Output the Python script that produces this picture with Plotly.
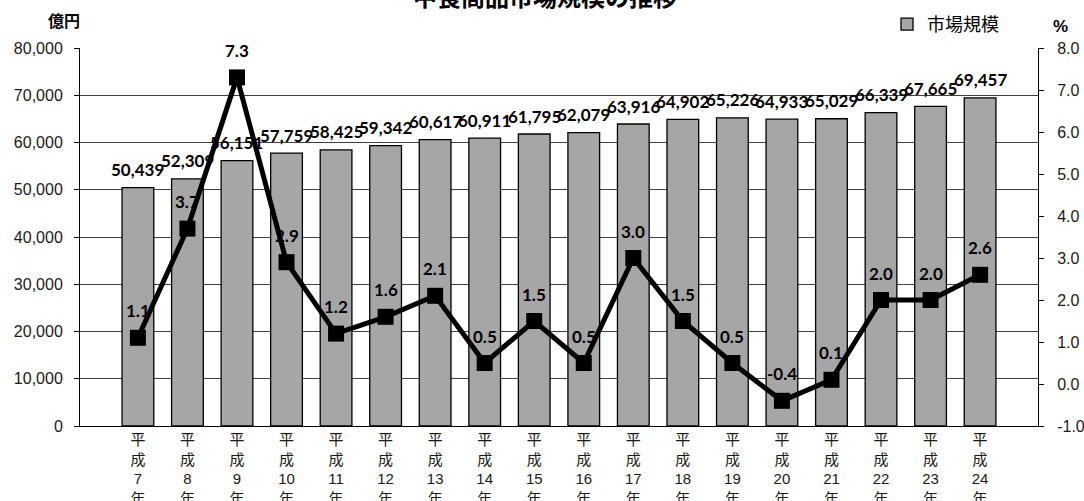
import plotly.graph_objects as go

# 年度ラベル（平成7年〜平成24年）
years = ["7", "8", "9", "10", "11", "12", "13", "14", "15",
         "16", "17", "18", "19", "20", "21", "22", "23", "24"]
categories = ["平<br>成<br>" + y + "<br>年" for y in years]

# 市場規模（億円）
market_size = [50439, 52309, 56151, 57759, 58425, 59342, 60617, 60911, 61795,
               62079, 63916, 64902, 65226, 64933, 65029, 66339, 67665, 69457]

# 前年比伸び率（%）
growth_rate = [1.1, 3.7, 7.3, 2.9, 1.2, 1.6, 2.1, 0.5, 1.5,
               0.5, 3.0, 1.5, 0.5, -0.4, 0.1, 2.0, 2.0, 2.6]

LEFT_TICKS = [0, 10000, 20000, 30000, 40000, 50000, 60000, 70000, 80000]
RIGHT_TICKS = [-1.0, 0.0, 1.0, 2.0, 3.0, 4.0, 5.0, 6.0, 7.0, 8.0]

W, H = 1084, 501
ML, MR, MT, MB = 80, 46, 48, 75
PW, PH = W - ML - MR, H - MT - MB

def px_x(px):
    return (px - ML) / PW

def px_y(py):
    return 1 + (MT - py) / PH

label_font = dict(family="Lato, 'Liberation Sans', sans-serif", size=17, color="#000000")
tick_font = dict(family="'Liberation Sans', Arial, sans-serif", size=16, color="#1a1a1a")
jp_font = "'Noto Sans CJK JP', 'Liberation Sans', sans-serif"

fig = go.Figure()

fig.add_trace(go.Bar(
    x=categories, y=market_size, name="市場規模",
    marker=dict(color="#a6a6a6", line=dict(color="#000000", width=1.3)),
    hoverinfo="x+y",
))

fig.add_trace(go.Scatter(
    x=categories, y=growth_rate, yaxis="y2", mode="lines+markers",
    line=dict(color="#000000", width=5),
    marker=dict(symbol="square", size=16, color="#000000"),
    showlegend=False,
))

annotations = []
# 棒グラフの値ラベル
for c, v in zip(categories, market_size):
    annotations.append(dict(
        x=c, y=v, xref="x", yref="y", text=f"<b>{v:,}</b>",
        showarrow=False, yshift=18, font=label_font,
    ))
# 伸び率の値ラベル
for c, v in zip(categories, growth_rate):
    annotations.append(dict(
        x=c, y=v, xref="x", yref="y2", text=f"<b>{v:.1f}</b>",
        showarrow=False, yshift=27, font=label_font,
    ))

# タイトルと単位
annotations.append(dict(
    x=px_x(545), y=px_y(-4), xref="paper", yref="paper",
    text="<b>中食商品市場規模の推移</b>", showarrow=False,
    font=dict(family=jp_font, size=24, color="#000000"),
    xanchor="center", yanchor="middle",
))
annotations.append(dict(
    x=px_x(64), y=px_y(20), xref="paper", yref="paper",
    text="<b>億円</b>", showarrow=False,
    font=dict(family=jp_font, size=16, color="#000000"),
    xanchor="center", yanchor="middle",
))
annotations.append(dict(
    x=px_x(1060), y=px_y(27), xref="paper", yref="paper",
    text="<b>%</b>", showarrow=False,
    font=dict(family="'Liberation Sans', sans-serif", size=17, color="#000000"),
    xanchor="center", yanchor="middle",
))

fig.update_layout(
    width=W, height=H,
    margin=dict(l=ML, r=MR, t=MT, b=MB, pad=0, autoexpand=False),
    paper_bgcolor="#ffffff", plot_bgcolor="#ffffff",
    bargap=0.36,
    showlegend=True,
    legend=dict(
        xref="container", yref="container",
        x=887 / W, y=1 - 6 / H, xanchor="left", yanchor="top",
        font=dict(family=jp_font, size=18, color="#000000"),
        bgcolor="rgba(0,0,0,0)",
    ),
    annotations=annotations,
    xaxis=dict(
        type="category", automargin=False,
        showline=True, linecolor="#000000", linewidth=1,
        ticks="", tickangle=0,
        tickfont=dict(family="'Liberation Sans', 'Noto Sans CJK JP', sans-serif", size=15, color="#1a1a1a"),
        showgrid=False,
    ),
    yaxis=dict(
        range=[0, 80000], tickvals=LEFT_TICKS, automargin=False,
        ticktext=[f"{t:,}" for t in LEFT_TICKS],
        showline=True, linecolor="#000000", linewidth=1,
        ticks="outside", ticklen=5, tickcolor="#000000",
        ticklabelstandoff=8,
        showgrid=True, gridcolor="#404040", gridwidth=1,
        zeroline=False, tickfont=tick_font,
    ),
    yaxis2=dict(
        range=[-1, 8], tickvals=RIGHT_TICKS, automargin=False,
        ticktext=[f"{t:.1f}" for t in RIGHT_TICKS],
        overlaying="y", side="right",
        showline=True, linecolor="#000000", linewidth=1,
        ticks="outside", ticklen=5, tickcolor="#000000",
        ticklabelstandoff=10,
        showgrid=False, zeroline=False, tickfont=tick_font,
    ),
)

fig.write_html("out.html")
